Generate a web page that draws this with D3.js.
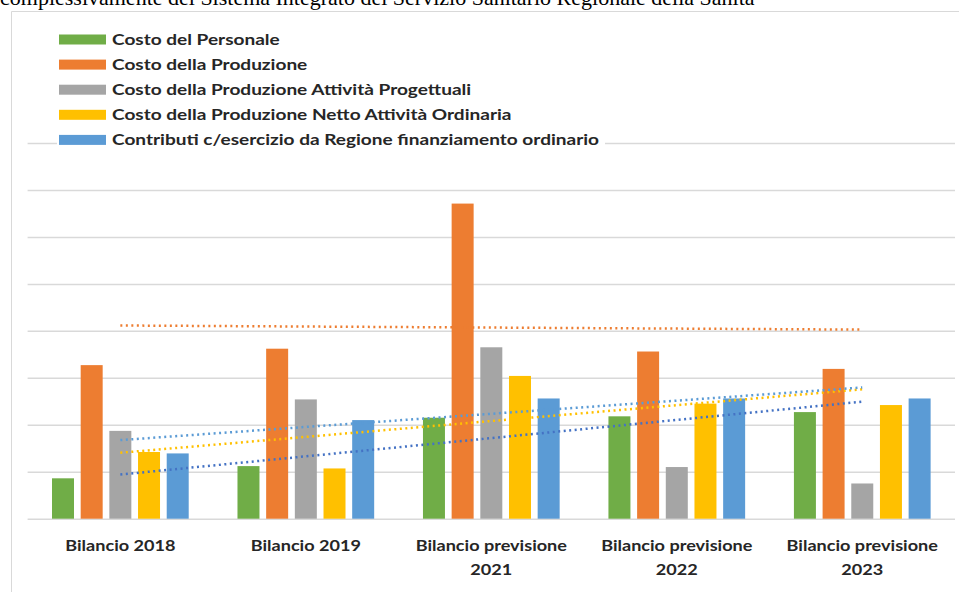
<!DOCTYPE html>
<html>
<head>
<meta charset="utf-8">
<script src="https://cdn.jsdelivr.net/npm/d3@7"></script>
<style>
  body { margin: 0; background: #fff; }
  svg { display: block; }
  text { font-family: Lato, "Open Sans", sans-serif; }
</style>
</head>
<body>
<div id="chart"></div>
<script>
// Data arrays (values in arbitrary units)
let categories = ["Bilancio 2018", "Bilancio 2019", "Bilancio previsione 2021",
                  "Bilancio previsione 2022", "Bilancio previsione 2023"];
let categoryLines = [["Bilancio 2018"], ["Bilancio 2019"], ["Bilancio previsione", "2021"],
                     ["Bilancio previsione", "2022"], ["Bilancio previsione", "2023"]];
let seriesNames = ["Costo del Personale", "Costo della Produzione",
                   "Costo della Produzione Attività Progettuali",
                   "Costo della Produzione Netto Attività Ordinaria",
                   "Contributi c/esercizio da Regione finanziamento ordinario"];
let personale = [8.6, 11.2, 21.5, 21.8, 22.7];
let produzione = [32.7, 36.2, 67.1, 35.6, 31.9];
let progettuali = [18.7, 25.4, 36.5, 11.0, 7.5];
let nettoOrdinaria = [14.2, 10.7, 30.4, 24.5, 24.2];
let contributi = [13.9, 21.0, 25.6, 25.6, 25.6];
let gridTicks = [0, 10, 20, 30, 40, 50, 60, 70, 80];

let seriesValues = [personale, produzione, progettuali, nettoOrdinaria, contributi];
let barColors = ["#70AD47", "#ED7D31", "#A5A5A5", "#FFC000", "#5B9BD5"];
// linear trendlines (series index, colour)
let trends = [[0, "#4472C4"], [1, "#ED7D31"], [3, "#FFC000"], [4, "#5B9BD5"]];

let width = 959, height = 592;

let svg = d3.select("#chart")
  .append("svg")
  .attr("width", width)
  .attr("height", height);

// paragraph text above the chart, cut off by the page top as in the original
svg.append("text")
  .attr("x", 0)
  .attr("y", 5)
  .style("font-family", "'Liberation Serif', serif")
  .style("font-size", "22px")
  .attr("fill", "#000")
  .text("complessivamente del Sistema Integrato del Servizio Sanitario Regionale della Sanità");

// chart area border
svg.append("path")
  .attr("d", "M11.5,592 V11.5 H959")
  .attr("fill", "none")
  .attr("stroke", "#d9d9d9")
  .attr("stroke-width", 1);

// Scales
let x0 = d3.scaleBand()
  .domain(categories)
  .range([27.6, 955]);

let x1 = d3.scaleBand()
  .domain(seriesNames)
  .range([24.4, 161.1])
  .paddingInner(0.233);

let y = d3.scaleLinear()
  .domain([0, 80])
  .range([518.7, 143]);

// gridlines
let grid = svg.append("g")
  .attr("transform", "translate(27.6,0)")
  .call(d3.axisLeft(y).tickValues(gridTicks).tickSize(-(955 - 27.6)).tickFormat(""));
grid.select(".domain").remove();
grid.selectAll("line")
  .attr("stroke", "#d9d9d9")
  .attr("stroke-width", 1.5);

// bars
let groups = svg.selectAll("g.group")
  .data(categories)
  .enter()
  .append("g")
  .attr("class", "group")
  .attr("transform", d => "translate(" + x0(d) + ",0)");

groups.selectAll("rect")
  .data((d, i) => seriesNames.map((s, j) => ({ s: s, v: seriesValues[j][i], c: barColors[j] })))
  .enter()
  .append("rect")
  .attr("x", d => x1(d.s))
  .attr("width", x1.bandwidth())
  .attr("y", d => y(d.v))
  .attr("height", d => y(0) - y(d.v))
  .attr("fill", d => d.c);

// trendlines (least squares over category index)
function fit(vals) {
  let n = vals.length;
  let mx = d3.mean(vals, (v, i) => i);
  let my = d3.mean(vals);
  let sxy = d3.sum(vals, (v, i) => (i - mx) * (v - my));
  let sxx = d3.sum(vals, (v, i) => (i - mx) * (i - mx));
  let b = sxy / sxx;
  let a = my - b * mx;
  return [[0, a], [n - 1, a + b * (n - 1)]];
}

let cx = i => x0(categories[i]) + x0.bandwidth() / 2;
let line = d3.line()
  .x(d => cx(d[0]))
  .y(d => y(d[1]));

svg.selectAll("path.trend")
  .data(trends)
  .enter()
  .append("path")
  .attr("class", "trend")
  .attr("d", d => line(fit(seriesValues[d[0]])))
  .attr("fill", "none")
  .attr("stroke", d => d[1])
  .attr("stroke-width", 2.5)
  .attr("stroke-dasharray", "2 3.5");

// x labels (stretched horizontally to mimic the wide original font)
let labels = svg.selectAll("g.xlabel")
  .data(categories)
  .enter()
  .append("g")
  .attr("class", "xlabel")
  .attr("transform", d => "translate(" + (x0(d) + x0.bandwidth() / 2) + ",0) scale(1.13,1)")
  .append("text")
  .attr("text-anchor", "middle")
  .attr("fill", "#262626")
  .style("font-size", "16px")
  .style("font-weight", "bold");

labels.selectAll("tspan")
  .data((d, i) => categoryLines[i])
  .enter()
  .append("tspan")
  .attr("x", 0)
  .attr("y", (d, k) => 551 + k * 24)
  .text(d => d);

// legend
let legend = svg.append("g");
legend.append("rect")
  .attr("x", 57).attr("y", 28)
  .attr("width", 548).attr("height", 122)
  .attr("fill", "#fff");

let items = legend.selectAll("g.item")
  .data(seriesNames)
  .enter()
  .append("g")
  .attr("class", "item")
  .attr("transform", (d, i) => "translate(59," + (39.5 + i * 25.1) + ")");

items.append("rect")
  .attr("x", 0).attr("y", -5)
  .attr("width", 47).attr("height", 10)
  .attr("fill", (d, i) => barColors[i]);

items.append("g")
  .attr("transform", "translate(53,0) scale(1.19,1)")
  .append("text")
  .attr("x", 0)
  .attr("y", 5.5)
  .attr("fill", "#262626")
  .style("font-size", "16px")
  .style("font-weight", "bold")
  .text(d => d);
</script>
</body>
</html>
